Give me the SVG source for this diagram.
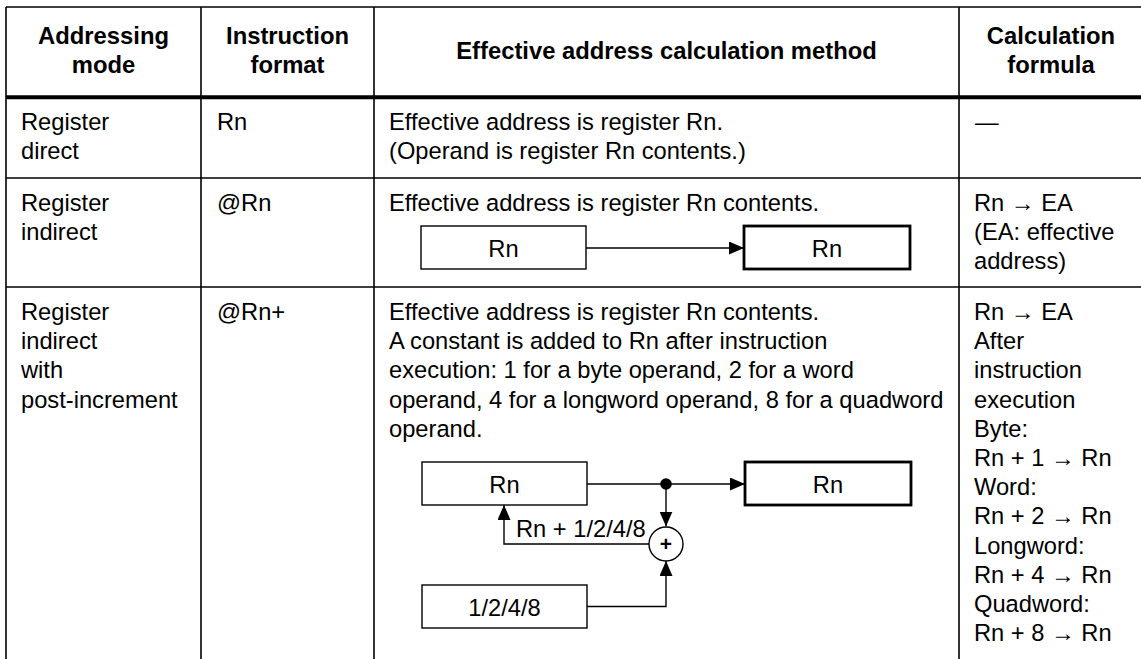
<svg xmlns="http://www.w3.org/2000/svg" width="1141" height="659" viewBox="0 0 1141 659">
<defs>
<style>
.t{font-family:"Liberation Sans",Arial,sans-serif;font-size:23.7px;fill:#000}
.h{font-family:"Liberation Sans",Arial,sans-serif;font-size:23.8px;font-weight:bold;fill:#000;text-anchor:middle}
.c{text-anchor:middle}
.grid{stroke:#000;stroke-width:1.6;fill:none}
.box{fill:#fff;stroke:#000;stroke-width:1.4}
.boxk{fill:#fff;stroke:#000;stroke-width:2.8}
.ln{fill:none;stroke:#000;stroke-width:1.4}
</style>
<marker id="ah" markerUnits="userSpaceOnUse" markerWidth="15" markerHeight="13" refX="15" refY="6.5" orient="auto">
<path d="M0,0 L15,6.5 L0,13 Z" fill="#000"/>
</marker>
</defs>
<rect width="1141" height="659" fill="#fff"/>

<g id="table">
<line class="grid" x1="6" y1="7" x2="1141" y2="7"/>
<line class="grid" x1="6" y1="7" x2="6" y2="659"/>
<line class="grid" x1="201" y1="7" x2="201" y2="659"/>
<line class="grid" x1="374" y1="7" x2="374" y2="659"/>
<line class="grid" x1="959" y1="7" x2="959" y2="659"/>
<line x1="6" y1="97.3" x2="1141" y2="97.3" stroke="#000" stroke-width="4"/>
<line class="grid" x1="6" y1="178" x2="1141" y2="178"/>
<line class="grid" x1="6" y1="287" x2="1141" y2="287"/>
</g>

<g id="header">
<text class="h" x="103.5" y="44">Addressing</text>
<text class="h" x="103.5" y="73">mode</text>
<text class="h" x="287.5" y="44">Instruction</text>
<text class="h" x="287.5" y="73">format</text>
<text class="h" x="666.5" y="59">Effective address calculation method</text>
<text class="h" x="1051" y="44">Calculation</text>
<text class="h" x="1051" y="73">formula</text>
</g>

<g id="row-register-direct">
<text class="t" x="21" y="130">Register</text>
<text class="t" x="21" y="159">direct</text>
<text class="t" x="217" y="130">Rn</text>
<text class="t" x="389" y="130">Effective address is register Rn.</text>
<text class="t" x="389" y="159">(Operand is register Rn contents.)</text>
<text class="t" x="975" y="130">—</text>
</g>

<g id="row-register-indirect">
<text class="t" x="21" y="211">Register</text>
<text class="t" x="21" y="240">indirect</text>
<text class="t" x="217" y="211">@Rn</text>
<text class="t" x="389" y="211">Effective address is register Rn contents.</text>
<text class="t" x="974" y="211">Rn → EA</text>
<text class="t" x="974" y="240">(EA: effective</text>
<text class="t" x="974" y="269">address)</text>
</g>

<g id="row-post-increment">
<text class="t" x="21" y="320">Register</text>
<text class="t" x="21" y="349.2">indirect</text>
<text class="t" x="21" y="378.4">with</text>
<text class="t" x="21" y="407.6">post-increment</text>
<text class="t" x="217" y="320">@Rn+</text>
<text class="t" x="389" y="320">Effective address is register Rn contents.</text>
<text class="t" x="389" y="349.2">A constant is added to Rn after instruction</text>
<text class="t" x="389" y="378.4">execution: 1 for a byte operand, 2 for a word</text>
<text class="t" x="389" y="407.6">operand, 4 for a longword operand, 8 for a quadword</text>
<text class="t" x="389" y="436.8">operand.</text>
<text class="t" x="974" y="320">Rn → EA</text>
<text class="t" x="974" y="349.2">After</text>
<text class="t" x="974" y="378.4">instruction</text>
<text class="t" x="974" y="407.6">execution</text>
<text class="t" x="974" y="436.8">Byte:</text>
<text class="t" x="974" y="466">Rn + 1 → Rn</text>
<text class="t" x="974" y="495.2">Word:</text>
<text class="t" x="974" y="524.4">Rn + 2 → Rn</text>
<text class="t" x="974" y="553.6">Longword:</text>
<text class="t" x="974" y="582.8">Rn + 4 → Rn</text>
<text class="t" x="974" y="612">Quadword:</text>
<text class="t" x="974" y="641.2">Rn + 8 → Rn</text>
</g>

<g id="connectors">
<line class="ln" x1="586" y1="248" x2="744" y2="248" marker-end="url(#ah)"/>
<line class="ln" x1="587" y1="484" x2="745" y2="484" marker-end="url(#ah)"/>
<line class="ln" x1="666" y1="484" x2="666" y2="526.5" marker-end="url(#ah)"/>
<polyline class="ln" points="649,544 504,544 504,505" marker-end="url(#ah)"/>
<polyline class="ln" points="587,606.5 666,606.5 666,561" marker-end="url(#ah)"/>
<text class="t" x="516" y="537">Rn + 1/2/4/8</text>
</g>

<g id="ri-src">
<rect class="box" x="421" y="226" width="165" height="43"/>
<text class="t c" x="503.5" y="256.5">Rn</text>
</g>
<g id="ri-ea">
<rect class="boxk" x="744" y="226" width="166" height="43"/>
<text class="t c" x="827" y="256.5">Rn</text>
</g>

<g id="pi-src">
<rect class="box" x="422" y="462" width="165" height="43"/>
<text class="t c" x="504.5" y="492.5">Rn</text>
</g>
<g id="pi-ea">
<rect class="boxk" x="745" y="462" width="166" height="43"/>
<text class="t c" x="828" y="492.5">Rn</text>
</g>
<g id="pi-junction">
<circle cx="666" cy="484" r="5.8" fill="#000"/>
</g>
<g id="pi-adder">
<circle cx="666" cy="544" r="17" fill="#fff" stroke="#000" stroke-width="1.4"/>
<text x="666" y="551" text-anchor="middle" style="font-family:'Liberation Sans',Arial,sans-serif;font-size:21px;font-weight:bold">+</text>
</g>
<g id="pi-const">
<rect class="box" x="422" y="585" width="165" height="43"/>
<text class="t c" x="504.5" y="615.5">1/2/4/8</text>
</g>
</svg>
